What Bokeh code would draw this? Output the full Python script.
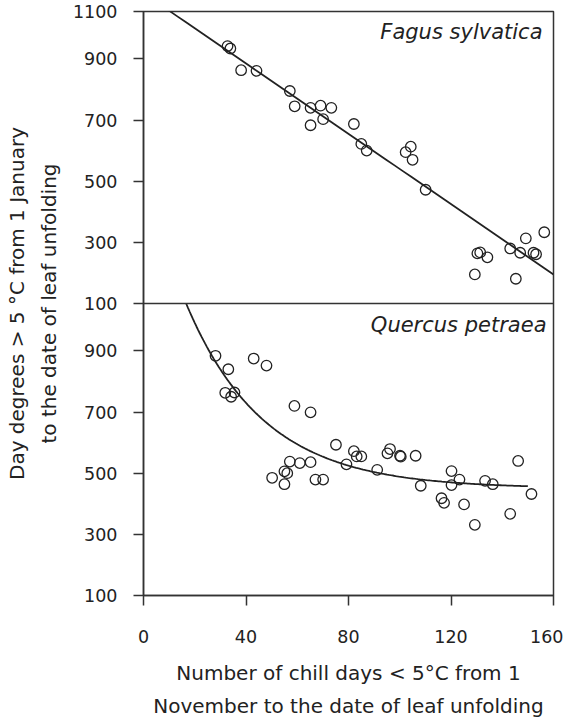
import numpy as np
from bokeh.plotting import figure
from bokeh.models import Range1d, FixedTicker, Span, Label
from bokeh.embed import file_html
from bokeh.resources import INLINE

# ---- data ----
fagus_chill = [32.8, 33.9, 38.1, 44.1, 57.1, 59.0, 65.2, 69.1, 73.3, 70.1,
               65.2, 82.1, 85.0, 87.1, 104.3, 102.3, 105.0, 110.1, 156.4, 149.2,
               143.1, 147.0, 152.2, 153.2, 130.3, 131.4, 134.2, 129.3, 145.3]
fagus_dd = [942, 934, 863, 861, 795, 745, 740, 747, 740, 703,
            683, 687, 622, 600, 613, 595, 570, 472, 333, 313,
            280, 266, 266, 261, 264, 267, 251, 195, 181]

quercus_chill = [28.1, 33.1, 43.0, 48.0, 31.9, 35.5, 34.2, 58.9, 65.2,
                 75.1, 82.1, 83.2, 85.0, 96.2, 95.2, 100.1, 100.4, 106.2, 146.2,
                 57.1, 61.0, 65.2, 79.2, 91.2, 55.0, 56.1, 50.2, 55.0, 67.1,
                 70.1, 108.2, 120.2, 123.3, 120.2, 133.3, 136.3, 151.4, 116.3, 117.3,
                 125.1, 143.1, 129.3]
quercus_dd = [884, 840, 875, 852, 763, 764, 750, 720, 699,
              593, 572, 555, 555, 579, 565, 557, 554, 557, 540,
              538, 533, 536, 529, 511, 506, 500, 485, 464, 479,
              479, 459, 507, 479, 461, 475, 464, 432, 418, 403,
              398, 367, 331]

# fitted curves (coefficients)
fagus_intercept, fagus_slope = 1115.0, -5.75
quercus_asym, quercus_amp, quercus_rate = 450.0, 1048.0, 0.033
quercus_fit_end = 150.0

x_ticks = [0, 40, 80, 120, 160]
y_ticks = [100, 300, 500, 700, 900]
top_label = "1100"

PANEL_LO, PANEL_HI = 100, 1055
SPAN = PANEL_HI - PANEL_LO

FONT = "DejaVu Sans"
INK = "#222222"
LINE = "#333333"

p = figure(frame_width=410, frame_height=584,
           min_border_left=143, min_border_right=10, min_border_top=11, min_border_bottom=118,
           x_range=Range1d(0, 160), y_range=Range1d(PANEL_LO - SPAN, PANEL_HI),
           output_backend="svg", toolbar_location=None)
p.extra_y_ranges = {"low": Range1d(PANEL_LO, PANEL_HI + SPAN)}
p.xgrid.visible = False
p.ygrid.visible = False
p.outline_line_color = LINE
p.outline_line_width = 1.5
p.background_fill_color = "white"
p.border_fill_color = "white"

# separator between panels
p.add_layout(Span(location=PANEL_LO, dimension="width", line_color=LINE, line_width=1.5))

# y axis: top panel on default range; lower panel values shifted down by SPAN
tick_pos = sorted(set(list(y_ticks) + [PANEL_HI] + [v - SPAN for v in y_ticks]))
overrides = {v: str(v) for v in y_ticks}
overrides[PANEL_HI] = top_label
for v in y_ticks:
    overrides[v - SPAN] = str(v)
yax = p.yaxis[0]
yax.ticker = FixedTicker(ticks=tick_pos)
yax.major_label_overrides = overrides
yax.axis_label = "Day degrees > 5 °C from 1 January\nto the date of leaf unfolding"

xax = p.xaxis[0]
xax.ticker = FixedTicker(ticks=x_ticks)
xax.axis_label = "Number of chill days < 5°C from 1\nNovember to the date of leaf unfolding"

for ax in (xax, yax):
    ax.minor_tick_line_color = None
    ax.major_tick_in = 0
    ax.major_tick_out = 10
    ax.major_tick_line_color = LINE
    ax.major_tick_line_width = 1.5
    ax.axis_line_color = LINE
    ax.axis_line_width = 1.5
    ax.major_label_text_font = FONT
    ax.major_label_text_font_size = "17.5px"
    ax.major_label_text_color = INK
    ax.axis_label_text_font = FONT
    ax.axis_label_text_font_size = "20px"
    ax.axis_label_text_font_style = "normal"
    ax.axis_label_text_color = INK
xax.axis_label_text_line_height = 1.4
yax.axis_label_text_line_height = 1.35
xax.major_label_standoff = 24
yax.major_label_standoff = 16
xax.axis_label_standoff = 15
yax.axis_label_standoff = 9

# top panel: Fagus
xs = np.linspace(0, 160, 50)
p.line(xs, fagus_intercept + fagus_slope * xs, line_color=INK, line_width=1.8)
p.scatter(fagus_chill, fagus_dd, marker="circle", size=10.5, fill_color=None,
          line_color=INK, line_width=1.3)

# lower panel: Quercus
x_start = np.log(quercus_amp / (PANEL_HI - quercus_asym)) / quercus_rate
xq = np.linspace(x_start, quercus_fit_end, 200)
p.line(xq, quercus_asym + quercus_amp * np.exp(-quercus_rate * xq), line_color=INK,
       line_width=1.8, y_range_name="low")
p.scatter(quercus_chill, quercus_dd, marker="circle", size=10.5, fill_color=None,
          line_color=INK, line_width=1.3, y_range_name="low")

p.add_layout(Label(x=160, y=PANEL_HI, x_offset=-11, y_offset=-8, text="Fagus sylvatica",
                   text_align="right", text_baseline="top", text_font=FONT,
                   text_font_style="italic", text_font_size="21px", text_color=INK))
p.add_layout(Label(x=160, y=PANEL_HI, x_offset=-7, y_offset=-9, text="Quercus petraea",
                   text_align="right", text_baseline="top", text_font=FONT,
                   text_font_style="italic", text_font_size="21px", text_color=INK,
                   y_range_name="low"))

open("out.html", "w").write(file_html(p, INLINE))
